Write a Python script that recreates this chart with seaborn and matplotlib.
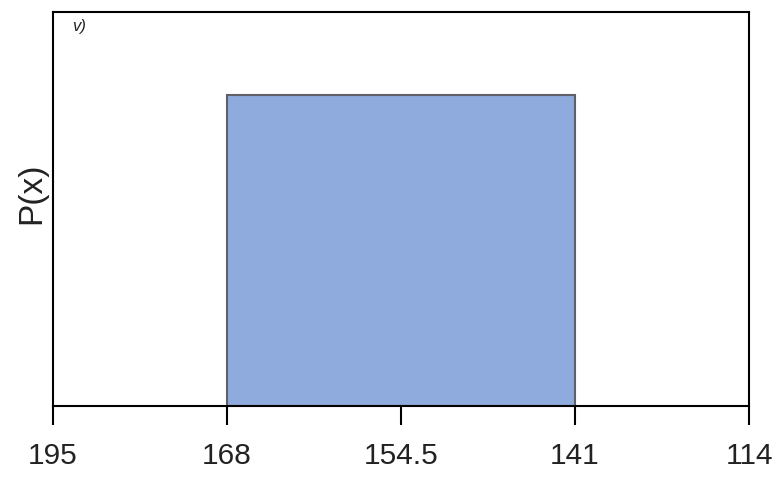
import matplotlib
matplotlib.use("Agg")
import matplotlib.pyplot as plt
import seaborn as sns
from matplotlib import font_manager

# data
tick_values = [195, 168, 154.5, 141, 114]
upper = 168
lower = 141
density = 1 / (upper - lower)
panel_label = "v)"

sns.set_theme(style="white")
names = {f.name for f in font_manager.fontManager.ttflist}
fam = "Liberation Sans Narrow" if "Liberation Sans Narrow" in names else "Liberation Sans"
plt.rcParams["font.family"] = [fam, "DejaVu Sans"]

fig = plt.figure(figsize=(7.74, 4.78), dpi=100)
ax = fig.add_axes([53 / 774, 72 / 478, 696 / 774, 394 / 478])

pos = list(range(len(tick_values)))
left = pos[tick_values.index(upper)]
right = pos[tick_values.index(lower)]
ax.bar(left, density, width=right - left, align="edge",
       color="#8faadc", edgecolor="#5f6166", linewidth=1.5)

ax.set_xlim(pos[0], pos[-1])
ax.set_ylim(0, density / 0.789)
ax.set_xticks(pos)
ax.set_xticklabels([f"{v:g}" for v in tick_values], fontsize=21.5)
ax.set_yticks([])
ax.tick_params(axis="x", direction="out", length=13.7, width=1.5, color="black",
               pad=12, bottom=True, labelcolor="#222222")

for s in ax.spines.values():
    s.set_color("black")
    s.set_linewidth(1.5)

ax.set_ylabel("P(x)", fontsize=24, color="#222222")
ax.yaxis.set_label_coords(-0.008, 0.54)
ax.text(0.027, 0.982, panel_label, transform=ax.transAxes, fontsize=12,
        style="italic", va="top", ha="left", color="#222222")

fig.savefig("out.png", dpi=100)
